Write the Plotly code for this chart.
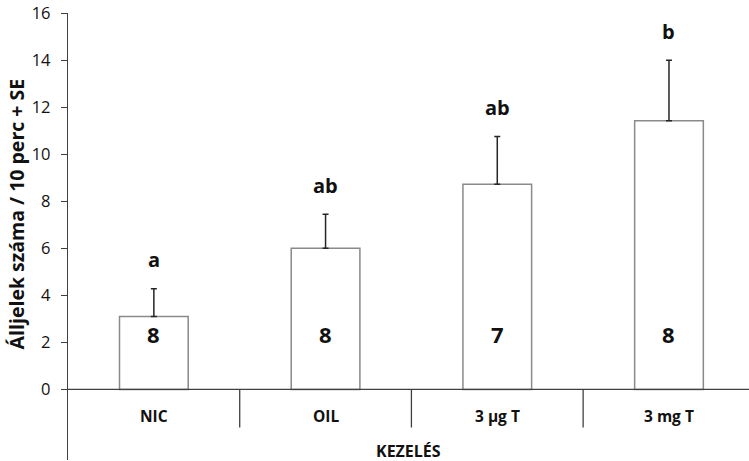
import plotly.graph_objects as go

categories = ["NIC", "OIL", "3 µg T", "3 mg T"]
means = [3.1, 6.0, 8.72, 11.42]
se = [1.18, 1.45, 2.03, 2.57]
n_labels = ["8", "8", "7", "8"]
sig_letters = ["a", "ab", "ab", "b"]
y_ticks = [0, 2, 4, 6, 8, 10, 12, 14, 16]

FONT = "'Open Sans', sans-serif"
xpos = list(range(len(categories)))

fig = go.Figure()
fig.add_trace(go.Bar(
    x=xpos, y=means, width=0.4,
    marker=dict(color="white", line=dict(color="#8a8a8a", width=1.5)),
    error_y=dict(type="data", array=se, arrayminus=[0] * len(se), symmetric=False,
                 color="#262626", thickness=1.5, width=3),
    hoverinfo="skip",
))

ann = []
for i, c in enumerate(categories):
    ann.append(dict(x=i, y=-1.15, text="<b>%s</b>" % c, showarrow=False,
                    font=dict(family=FONT, size=15.5, color="#111"), xref="x", yref="y"))
    ann.append(dict(x=i, y=2.35, text="<b>%s</b>" % n_labels[i], showarrow=False,
                    font=dict(family=FONT, size=22, color="#111"), xref="x", yref="y"))
    ann.append(dict(x=i, y=means[i] + se[i], yshift=29, text="<b>%s</b>" % sig_letters[i],
                    showarrow=False, font=dict(family=FONT, size=20, color="#111"),
                    xref="x", yref="y"))
ann.append(dict(x=0.5, y=-2.6, xref="paper", yref="y", text="<b>KEZELÉS</b>", showarrow=False,
                font=dict(family=FONT, size=16, color="#111")))
# y-axis title
ann.append(dict(x=-0.076, y=7.45, xref="paper", yref="y", textangle=-90,
                text="<b>Álljelek száma / 10 perc + SE</b>", showarrow=False,
                xanchor="center", yanchor="middle",
                font=dict(family=FONT, size=19.5, color="#111")))

shapes = [dict(type="line", xref="paper", yref="y", x0=0, x1=1, y0=0, y1=0,
               line=dict(color="#404040", width=1.3))]
for s in [0.5, 1.5, 2.5]:
    shapes.append(dict(type="line", xref="x", yref="y", x0=s, x1=s, y0=0, y1=-1.62,
                       line=dict(color="#404040", width=1.3)))

fig.update_layout(
    width=749, height=461,
    margin=dict(l=68, r=0, t=13, b=1),
    plot_bgcolor="white", paper_bgcolor="white",
    showlegend=False,
    annotations=ann, shapes=shapes,
    xaxis=dict(range=[-0.5, 3.466], showticklabels=False, showgrid=False,
               zeroline=False, showline=False, ticks=""),
    yaxis=dict(range=[-3.0, 16], tickvals=y_ticks, showgrid=False, zeroline=False,
               showline=True, linecolor="#404040", linewidth=1.3,
               ticks="outside", ticklen=6, tickcolor="#404040",
               ticklabelstandoff=7,
               tickfont=dict(family=FONT, size=16.5, color="#111")),
)

fig.write_html("out.html")
